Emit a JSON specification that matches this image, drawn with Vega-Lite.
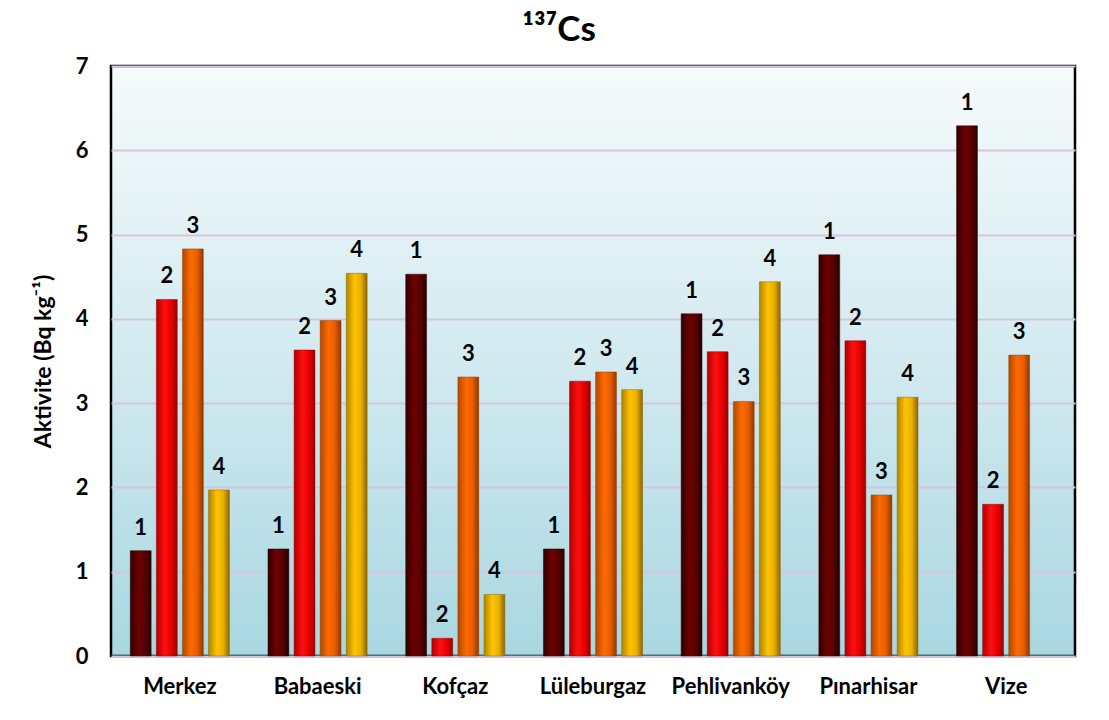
{
  "$schema": "https://vega.github.io/schema/vega-lite/v6.json",
  "width": 964,
  "height": 590,
  "autosize": {"type": "none"},
  "padding": {"left": 111, "top": 66, "right": 34, "bottom": 64},
  "background": "white",
  "config": {
    "font": "Lato",
    "view": {
      "stroke": "black",
      "strokeWidth": 2.5,
      "fill": {"gradient": "linear", "x1": 0, "y1": 0, "x2": 0, "y2": 1, "stops": [{"offset": 0, "color": "#f6fafb"}, {"offset": 0.5, "color": "#d2eaf0"}, {"offset": 1, "color": "#a9d7e1"}]}
    },
    "axis": {"labelFont": "Lato", "labelFontWeight": "bold", "labelColor": "black", "titleFont": "Lato", "titleColor": "black", "ticks": false}
  },
  "title": {
    "text": "¹³⁷Cs",
    "font": "Lato",
    "fontSize": 35,
    "fontWeight": "bold",
    "color": "black",
    "anchor": "middle",
    "dx": -34,
    "offset": 7
  },
  "data": {
    "values": [
      {"site": "Merkez", "s": "1", "v": 1.25},
      {"site": "Merkez", "s": "2", "v": 4.23},
      {"site": "Merkez", "s": "3", "v": 4.83},
      {"site": "Merkez", "s": "4", "v": 1.97},
      {"site": "Babaeski", "s": "1", "v": 1.27},
      {"site": "Babaeski", "s": "2", "v": 3.63},
      {"site": "Babaeski", "s": "3", "v": 3.98},
      {"site": "Babaeski", "s": "4", "v": 4.54},
      {"site": "Kofçaz", "s": "1", "v": 4.53},
      {"site": "Kofçaz", "s": "2", "v": 0.21},
      {"site": "Kofçaz", "s": "3", "v": 3.31},
      {"site": "Kofçaz", "s": "4", "v": 0.73},
      {"site": "Lüleburgaz", "s": "1", "v": 1.27},
      {"site": "Lüleburgaz", "s": "2", "v": 3.26},
      {"site": "Lüleburgaz", "s": "3", "v": 3.37},
      {"site": "Lüleburgaz", "s": "4", "v": 3.16},
      {"site": "Pehlivanköy", "s": "1", "v": 4.06},
      {"site": "Pehlivanköy", "s": "2", "v": 3.61},
      {"site": "Pehlivanköy", "s": "3", "v": 3.02},
      {"site": "Pehlivanköy", "s": "4", "v": 4.44},
      {"site": "Pınarhisar", "s": "1", "v": 4.76},
      {"site": "Pınarhisar", "s": "2", "v": 3.74},
      {"site": "Pınarhisar", "s": "3", "v": 1.91},
      {"site": "Pınarhisar", "s": "4", "v": 3.07},
      {"site": "Vize", "s": "1", "v": 6.29},
      {"site": "Vize", "s": "2", "v": 1.80},
      {"site": "Vize", "s": "3", "v": 3.57}
    ]
  },
  "encoding": {
    "x": {
      "field": "site", "type": "nominal",
      "sort": ["Merkez", "Babaeski", "Kofçaz", "Lüleburgaz", "Pehlivanköy", "Pınarhisar", "Vize"],
      "scale": {"paddingInner": 0.28, "paddingOuter": 0.14},
      "axis": {"title": null, "labelAngle": 0, "labelFontSize": 22, "labelPadding": 20, "domain": false}
    },
    "xOffset": {
      "field": "s", "type": "nominal",
      "scale": {"domain": ["1", "2", "3", "4"], "paddingInner": 0.2, "paddingOuter": 0}
    },
    "y": {
      "field": "v", "type": "quantitative",
      "scale": {"domain": [0, 7], "nice": false},
      "axis": {
        "values": [0, 1, 2, 3, 4, 5, 6, 7],
        "title": "Aktivite (Bq kg⁻¹)",
        "titleFontSize": 23,
        "titleFontWeight": "bold",
        "titlePadding": 20,
        "labelFontSize": 22,
        "labelPadding": 23,
        "domain": false,
        "grid": true,
        "gridColor": "#d5c6df",
        "gridWidth": 2
      }
    }
  },
  "layer": [
    {
      "transform": [{"filter": "datum.s == '1'"}],
      "mark": {"type": "bar", "stroke": "#3a0000", "strokeWidth": 0.5,
        "color": {"gradient": "linear", "x1": 0, "y1": 0, "x2": 1, "y2": 0, "stops": [{"offset": 0, "color": "#2e0000"}, {"offset": 0.4, "color": "#6e0000"}, {"offset": 0.7, "color": "#5a0000"}, {"offset": 1, "color": "#220000"}]}}
    },
    {
      "transform": [{"filter": "datum.s == '2'"}],
      "mark": {"type": "bar", "stroke": "#990000", "strokeWidth": 0.5,
        "color": {"gradient": "linear", "x1": 0, "y1": 0, "x2": 1, "y2": 0, "stops": [{"offset": 0, "color": "#b00000"}, {"offset": 0.4, "color": "#ff1010"}, {"offset": 0.7, "color": "#e80000"}, {"offset": 1, "color": "#9a0000"}]}}
    },
    {
      "transform": [{"filter": "datum.s == '3'"}],
      "mark": {"type": "bar", "stroke": "#994000", "strokeWidth": 0.5,
        "color": {"gradient": "linear", "x1": 0, "y1": 0, "x2": 1, "y2": 0, "stops": [{"offset": 0, "color": "#b04800"}, {"offset": 0.4, "color": "#ff6a00"}, {"offset": 0.7, "color": "#e85e00"}, {"offset": 1, "color": "#903800"}]}}
    },
    {
      "transform": [{"filter": "datum.s == '4'"}],
      "mark": {"type": "bar", "stroke": "#8a6800", "strokeWidth": 0.5,
        "color": {"gradient": "linear", "x1": 0, "y1": 0, "x2": 1, "y2": 0, "stops": [{"offset": 0, "color": "#b08400"}, {"offset": 0.4, "color": "#ffc400"}, {"offset": 0.7, "color": "#eab000"}, {"offset": 1, "color": "#8a6600"}]}}
    },
    {
      "mark": {"type": "text", "baseline": "alphabetic", "dy": -16, "fontSize": 22, "fontWeight": "bold", "color": "black", "font": "Lato"},
      "encoding": {"text": {"field": "s"}}
    }
  ]
}
